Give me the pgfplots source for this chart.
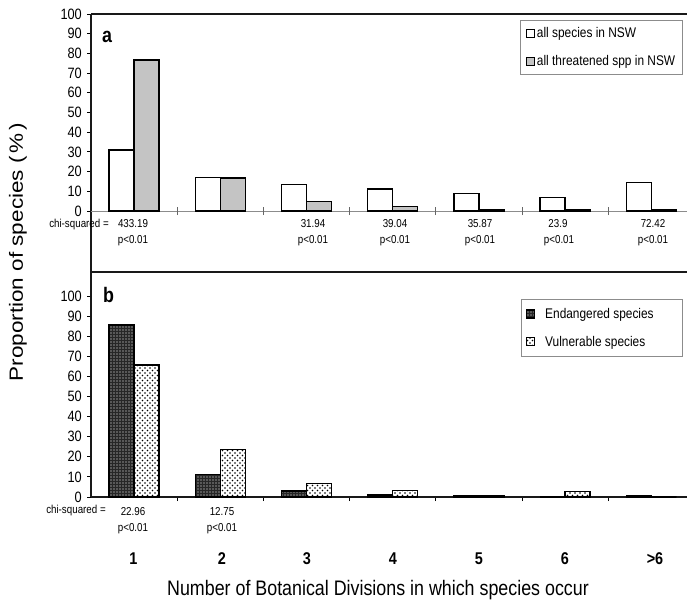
\documentclass[border=0pt]{standalone}
\usepackage{fontspec}
\setmainfont{Liberation Sans}[FakeStretch=0.85]
\newfontfamily\ylfont{Liberation Sans}
\usepackage{graphicx}
\usepackage{pgfplots}
\pgfplotsset{compat=1.18}
\usetikzlibrary{patterns}
\pgfdeclarepatternformonly{finedots}{\pgfqpoint{-1pt}{-1pt}}{\pgfqpoint{1pt}{1pt}}{\pgfqpoint{2pt}{2pt}}{\pgfpathcircle{\pgfpointorigin}{0.55pt}\pgfusepath{fill}}
\pgfdeclarepatternformonly{meddots}{\pgfqpoint{-1pt}{-1pt}}{\pgfqpoint{1pt}{1pt}}{\pgfqpoint{3pt}{3pt}}{\pgfpathcircle{\pgfpointorigin}{0.6pt}\pgfusepath{fill}}
\pgfdeclarepatternformonly{bigdots}{\pgfqpoint{-1pt}{-1pt}}{\pgfqpoint{4pt}{4pt}}{\pgfqpoint{5pt}{5pt}}{\pgfpathcircle{\pgfqpoint{0pt}{0pt}}{0.8pt}\pgfpathcircle{\pgfqpoint{2.5pt}{2.5pt}}{0.8pt}\pgfusepath{fill}}
\newcommand\fs[1]{\fontsize{#1}{#1}\selectfont}
\pgfplotsset{
  panel/.style={
    scale only axis, width=596pt,
    xmin=0.5, xmax=7.414, enlargelimits=false,
    axis lines=left, axis line style={-, line width=1.4pt, black!90},
    ytick={0,10,...,100},
    tick align=outside, major tick length=4pt,
    tick style={line width=0.9pt, black},
    yticklabel style={font=\fs{15}, inner sep=1pt, xshift=-4pt},
    /pgf/number format/assume math mode=true,
    ybar=0pt, bar width=0.29,
    legend cell align=left,
  },
  sq/.style={legend image code/.code={\draw[##1] (0pt,-4pt) rectangle (8pt,4pt);}},
}
\begin{document}
\begin{tikzpicture}[x=1pt,y=1pt]
\useasboundingbox (0,0) rectangle (687,603);
% ---------- panel a ----------
\begin{axis}[panel,
  at={(91pt,331pt)}, anchor=south west, height=258pt,
  ymin=-30.96, ymax=100, xtick=\empty,
  legend style={at={(0.9933,0.9767)}, anchor=north east, draw=black!45, line width=0.6pt,
    font=\fs{14}, inner xsep=6pt, inner ysep=6pt, row sep=13pt, nodes={inner sep=1.5pt}},
]
\draw[black!45, line width=1pt] (axis cs:0.5,0) -- (axis cs:7.414,0);
\pgfplotsinvokeforeach{1.5,2.5,3.5,4.5,5.5,6.5}{\draw[black!60, line width=0.8pt] (axis cs:#1,0) ++(0pt,-4pt) -- ++(0pt,8pt);}
\draw[line width=1.4pt, black!90] (rel axis cs:0,1) -- (rel axis cs:1,1);
\addplot[draw=black, line width=1.4pt, fill=white, sq]
  coordinates {(1,31) (2,16.9) (3,13.5) (4,11.2) (5,9.0) (6,6.8) (7,14.6)};
\addlegendentry{all species in NSW}
\addplot[draw=black, line width=1.4pt, pattern=finedots, sq]
  coordinates {(1,76.6) (2,16.7) (3,4.7) (4,2.2) (5,0.6) (6,0.6) (7,0.5)};
\addlegendentry{all threatened spp in NSW}
\end{axis}
% ---------- panel b ----------
\begin{axis}[panel,
  at={(91pt,106pt)}, anchor=south west, height=225pt,
  ymin=0, ymax=111.94,
  xtick={1.5,2.5,3.5,4.5,5.5,6.5}, xticklabels={},
  legend style={at={(0.9933,0.88)}, anchor=north east, draw=black!45, line width=0.6pt,
    font=\fs{14}, inner xsep=5pt, inner ysep=7pt, row sep=12pt, nodes={inner sep=2pt}},
]
\addplot[draw=black, line width=1.4pt, fill=black!85, postaction={pattern=meddots, pattern color=white}, sq]
  coordinates {(1,85.5) (2,11.2) (3,3.0) (4,1.0) (5,0.5) (6,0) (7,0.5)};
\addlegendentry{\hspace*{8pt}Endangered species\rule{22pt}{0pt}}
\addplot[draw=black, line width=1.4pt, fill=white, postaction={pattern=bigdots}, sq]
  coordinates {(1,65.7) (2,23.7) (3,6.8) (4,3.2) (5,0.5) (6,2.8) (7,0)};
\addlegendentry{\hspace*{8pt}Vulnerable species}
\end{axis}
% ---------- annotations ----------
\node[anchor=base west, inner sep=0] at (102,560) {\bfseries\fs{21}a};
\node[anchor=base west, inner sep=0] at (103,301) {\bfseries\fs{21}b};
\begin{scope}[every node/.style={inner sep=0, font=\fs{11.5}}]
\node[anchor=base] at (79,375) {chi-squared =};
\node[anchor=base] at (133,375) {433.19}; \node[anchor=base] at (133,359) {p<0.01};
\node[anchor=base] at (313,375) {31.94};  \node[anchor=base] at (313,359) {p<0.01};
\node[anchor=base] at (395,375) {39.04};  \node[anchor=base] at (395,359) {p<0.01};
\node[anchor=base] at (480,375) {35.87};  \node[anchor=base] at (480,359) {p<0.01};
\node[anchor=base] at (558,375) {23.9};   \node[anchor=base] at (559,359) {p<0.01};
\node[anchor=base] at (653,375) {72.42};  \node[anchor=base] at (653,359) {p<0.01};
\node[anchor=base] at (76,90) {chi-squared =};
\node[anchor=base] at (133,88) {22.96}; \node[anchor=base] at (133,72) {p<0.01};
\node[anchor=base] at (222,88) {12.75}; \node[anchor=base] at (222,72) {p<0.01};
\end{scope}
\begin{scope}[every node/.style={inner sep=0, anchor=base, font=\bfseries\fs{17}}]
\node at (133.5,39) {1};
\node at (222,39) {2};
\node at (307,39) {3};
\node at (393,39) {4};
\node at (479,39) {5};
\node at (565,39) {6};
\node at (655,39) {>6};
\end{scope}
\node[anchor=base, inner sep=0] at (378,8) {\fs{21}Number of Botanical Divisions in which species occur};
\node[rotate=90, inner sep=0] at (18,351) {\scalebox{1}[0.85]{\ylfont\fs{22.5}Proportion of species (\kern3pt\%\kern3pt)}};
\end{tikzpicture}
\end{document}
